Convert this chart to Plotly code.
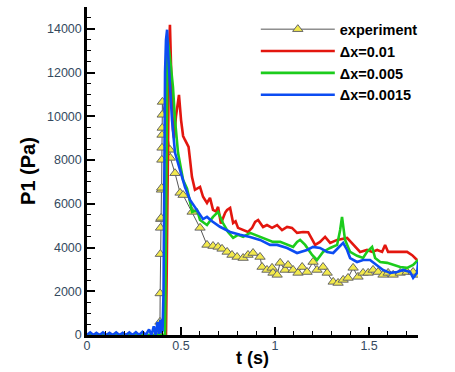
import plotly.graph_objects as go

# ---------------- data ----------------
exp_t = [0.385, 0.388, 0.389, 0.390, 0.391, 0.392, 0.394, 0.396, 0.397, 0.398, 0.399, 0.399, 0.400, 0.400, 0.401,
         0.441, 0.443, 0.468, 0.495, 0.511, 0.559, 0.601, 0.638, 0.670, 0.697, 0.718, 0.745, 0.771, 0.798,
         0.830, 0.856, 0.883, 0.920, 0.931, 0.957, 0.984, 0.989, 1.011, 1.027, 1.053, 1.069, 1.096, 1.122,
         1.144, 1.170, 1.202, 1.223, 1.255, 1.277, 1.309, 1.335, 1.362, 1.388, 1.415, 1.441, 1.468, 1.495,
         1.521, 1.548, 1.574, 1.601, 1.628, 1.665, 1.702, 1.734, 1.761]
exp_p = [0, 600, 1900, 3700, 4900, 5300, 5355, 6640, 6730, 8010, 8560, 9150, 9470, 10070, 10660,
         8470, 8100, 7400, 6500, 6400, 5630, 4900, 4120, 4070, 4030, 3940, 3800, 3660, 3570,
         3520, 3660, 3750, 3570, 3110, 2975, 3070, 2840, 2750, 3300, 2975, 3200, 2975, 2840,
         3110, 2880, 3340, 2975, 3110, 2840, 2430, 2380, 2520, 2610, 3070, 2660, 2840, 2840,
         2975, 2880, 2750, 2840, 2750, 2840, 2880, 2880, 2750]

red_t = [0.000, 0.420, 0.424, 0.430, 0.436, 0.441, 0.446, 0.451, 0.457, 0.463, 0.473, 0.489, 0.500, 0.511,
         0.521, 0.532, 0.540, 0.548, 0.558, 0.574, 0.590, 0.601, 0.617, 0.638, 0.654, 0.670, 0.686, 0.697,
         0.712, 0.735, 0.745, 0.761, 0.777, 0.790, 0.803, 0.830, 0.845, 0.856, 0.878, 0.894, 0.910, 0.936,
         0.957, 0.984, 1.011, 1.037, 1.064, 1.090, 1.117, 1.149, 1.176, 1.200, 1.213, 1.239, 1.266, 1.293,
         1.330, 1.383, 1.415, 1.452, 1.489, 1.516, 1.543, 1.569, 1.585, 1.601, 1.628, 1.665, 1.702, 1.729,
         1.755]
red_p = [0, 0, 3000, 9000, 13000, 14190, 13000, 11000, 9400, 9000, 10000, 10980, 9840, 9100,
         8920, 8700, 8600, 8010, 7230, 6640, 6700, 6770, 6320, 6040, 6270, 5720, 5650, 5860,
         5100, 5600, 5720, 5810, 5120, 5200, 4900, 4800, 4750, 4710, 4900, 5170, 5260, 4940,
         5030, 4900, 5030, 4800, 4940, 4900, 4670, 4710, 4700, 4300, 4120, 4260, 4490, 4210,
         4350, 4440, 4120, 3800, 3890, 3800, 3890, 3800, 4120, 3800, 3800, 3800, 3800, 3650,
         3430]

green_t = [0.000, 0.415, 0.420, 0.424, 0.428, 0.441, 0.457, 0.468, 0.484, 0.511, 0.532, 0.550, 0.559,
           0.585, 0.601, 0.638, 0.670, 0.697, 0.723, 0.750, 0.777, 0.803, 0.830, 0.867, 0.894, 0.920,
           0.957, 0.989, 1.027, 1.064, 1.096, 1.117, 1.133, 1.160, 1.197, 1.223, 1.255, 1.293, 1.330,
           1.346, 1.356, 1.372, 1.399, 1.436, 1.468, 1.489, 1.516, 1.532, 1.559, 1.596, 1.628, 1.665,
           1.702, 1.734, 1.761]
green_p = [0, 0, 5000, 12000, 13600, 12700, 11350, 9840, 8330, 7090, 6690, 6000, 5630,
           5720, 5260, 5030, 5400, 5630, 5120, 4710, 4440, 4580, 4490, 4670, 4580, 4490,
           4350, 4260, 4260, 4120, 4030, 4260, 4350, 4120, 3660, 3430, 3800, 3980, 4120,
           4800, 5400, 4350, 3800, 3620, 3520, 3800, 4030, 3520, 3340, 3300, 3200, 3110,
           3070, 3200, 3430]

blue_t = [0.000, 0.017, 0.034, 0.050, 0.067, 0.085, 0.102, 0.120, 0.137, 0.155, 0.172, 0.190, 0.207,
          0.225, 0.242, 0.260, 0.277, 0.295, 0.312, 0.330, 0.343, 0.355, 0.365, 0.375, 0.383, 0.390,
          0.396, 0.402, 0.407, 0.411, 0.415, 0.420, 0.426, 0.431, 0.441, 0.452, 0.468, 0.484, 0.521,
          0.548, 0.585, 0.617, 0.638, 0.665, 0.707, 0.761, 0.814, 0.867, 0.920, 0.973, 1.011, 1.064,
          1.117, 1.170, 1.202, 1.239, 1.277, 1.309, 1.335, 1.362, 1.383, 1.399, 1.436, 1.468, 1.505,
          1.543, 1.574, 1.612, 1.649, 1.681, 1.718, 1.734, 1.755, 1.761]
blue_p = [0, 120, 0, 100, 0, 120, 0, 100, 0, 120, 0, 100, 0,
          120, 0, 130, 0, 150, 0, 250, 0, 400, 0, 600, 50, 700,
          100, 200, 2000, 8000, 12000, 13500, 13960, 12900, 11350, 9840, 8330, 7870, 6770,
          6180, 5720, 5300, 5400, 5200, 4950, 4710, 4580, 4485, 4350, 4120, 4120, 3980,
          3750, 3890, 4030, 3980, 3800, 3750, 3980, 4210, 3890, 3520, 3340, 3430, 3430,
          3200, 2975, 2840, 2880, 2975, 2880, 2610, 2840, 3340]

x_ticks = [0, 0.5, 1, 1.5]
x_tick_labels = ["0", "0.5", "1", "1.5"]
y_ticks = [0, 2000, 4000, 6000, 8000, 10000, 12000, 14000]
y_tick_labels = ["0", "2000", "4000", "6000", "8000", "10000", "12000", "14000"]

# ---------------- figure ----------------
FONT = "Liberation Sans, Arial, sans-serif"
TICKCOL = "#34495e"

fig = go.Figure()
fig.add_trace(go.Scatter(
    x=exp_t, y=exp_p, mode="lines+markers", name="experiment",
    line=dict(color="#555555", width=1),
    marker=dict(symbol="triangle-up", size=9, color="#f3ea4c",
                line=dict(color="#666666", width=1)),
))
fig.add_trace(go.Scatter(x=red_t, y=red_p, mode="lines", name="\u0394x=0.01",
                         line=dict(color="#e3160e", width=2.6)))
fig.add_trace(go.Scatter(x=green_t, y=green_p, mode="lines", name="\u0394x=0.005",
                         line=dict(color="#1ccc1c", width=2.6)))
fig.add_trace(go.Scatter(x=blue_t, y=blue_p, mode="lines", name="\u0394x=0.0015",
                         line=dict(color="#0c4cf2", width=2.6)))

fig.update_layout(
    width=455, height=372,
    margin=dict(l=87, r=37, t=7, b=37, autoexpand=False),
    paper_bgcolor="white", plot_bgcolor="white",
    font=dict(family=FONT, size=12, color="black"),
    showlegend=True,
    legend=dict(
        x=0.51, y=0.981, xanchor="left", yanchor="top",
        bgcolor="rgba(0,0,0,0)", borderwidth=0,
        font=dict(family=FONT, size=14.5, color="black", weight="bold"),
        itemwidth=74, tracegroupgap=0,
    ),
    xaxis=dict(
        range=[0, 1.76], showgrid=False, zeroline=False, automargin=False,
        showline=True, linecolor="black", linewidth=2.5,
        ticks="inside", ticklen=8, tickwidth=2, tickcolor="black",
        tickvals=x_ticks, ticktext=x_tick_labels, ticklabelstandoff=-3,
        tickfont=dict(family=FONT, size=12.5, color=TICKCOL),
        minor=dict(ticks="inside", ticklen=4, tickwidth=1, tickcolor="black", dtick=0.1, showgrid=False),
        title=dict(text="t (s)", font=dict(family=FONT, size=18, color="black", weight="bold"), standoff=0),
    ),
    yaxis=dict(
        range=[0, 15000], showgrid=False, zeroline=False, automargin=False,
        showline=True, linecolor="black", linewidth=2.5,
        ticks="inside", ticklen=8, tickwidth=2, tickcolor="black",
        tickvals=y_ticks, ticktext=y_tick_labels,
        tickfont=dict(family=FONT, size=12.5, color=TICKCOL),
        minor=dict(ticks="inside", ticklen=4, tickwidth=1, tickcolor="black", dtick=500, showgrid=False),
        title=dict(text="P1 (Pa)", font=dict(family=FONT, size=20, color="black", weight="bold"), standoff=6),
    ),
)

fig.write_html("out.html", config={"displayModeBar": False},
               post_script="document.body.style.margin='0';document.body.style.overflow='hidden';")
